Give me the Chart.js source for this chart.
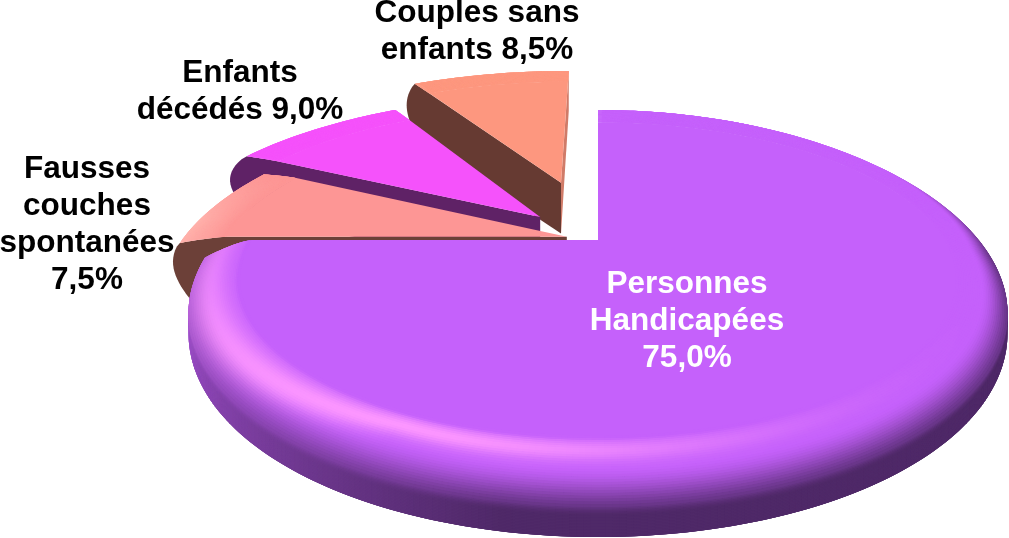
<!DOCTYPE html>
<html lang="fr">
<head>
<meta charset="utf-8">
<title>Répartition</title>
<style>
    html, body { margin: 0; padding: 0; background: #fff; }
    canvas { display: block; }
</style>
<script src="https://cdn.jsdelivr.net/npm/chart.js@4/dist/chart.umd.min.js"></script>
</head>
<body>
<canvas id="pieChart" width="1009" height="538"></canvas>
<script>
// Données
const categories = ['Personnes Handicapées', 'Fausses couches spontanées', 'Enfants décédés', 'Couples sans enfants'];
const values = [75.0, 7.5, 9.0, 8.5];
const labelLines = [
    ['Personnes', 'Handicapées', '75,0%'],
    ['Fausses', 'couches', 'spontanées', '7,5%'],
    ['Enfants', 'décédés 9,0%'],
    ['Couples sans', 'enfants 8,5%']
];

// Style
const sliceColors = ['#c561fb', '#fd9695', '#f552fb', '#fd977f'];
const sideColors = ['#4f2968', '#6c4038', '#5f2266', '#663a32'];
const explode = [0, 0.082, 0.21, 0.395];
const sliceScale = [1, 0.99, 1, 1.04];
const rimDrop = [1, 0.35, 0.15, 0.1];
const faceBulge = [0, 15, 20, 9];
const faceInset = [0, 24, 8, 2];
const labelPos = [[687, 293, '#fff'], [87, 178, '#000'], [240, 82, '#000'], [477, 22, '#000']];
const lineHeight = 37;

function rgb(hex) {
    return [1, 3, 5].map(i => parseInt(hex.substr(i, 2), 16));
}
function mix(a, b, k) {
    k = Math.max(0, Math.min(1, k));
    return a.map((v, i) => v + (b[i] - v) * k);
}
function css(c) {
    return 'rgb(' + c.map(Math.round).join(',') + ')';
}
function clamp(v) {
    return Math.max(0, Math.min(1, v));
}
function smooth(a, b, v) {
    const t = clamp((v - a) / (b - a));
    return t * t * (3 - 2 * t);
}

// Perspective: the pie lies on a plane seen from the front, the library gives center, radius and angles
const VIEW_DIST = 3.55;
const FLAT_R = 0.88;
const BEVEL_T = 0.6;

function makeView(arc) {
    const R = arc.outerRadius;
    const fx = 5.8125 * R;
    const A = 0.5417 * R * VIEW_DIST * (VIEW_DIST + 1);
    const horizon = arc.y - A / VIEW_DIST;
    return {
        R: R,
        point(sl, r, th, drop) {
            const rr = r * sl.scale;
            const w = VIEW_DIST - (sl.ey - rr * Math.cos(th));
            return [arc.x + fx * (sl.ex + rr * Math.sin(th)) / w, horizon + A / w + (drop || 0)];
        },
        depth(sl, r, th) {
            const w = VIEW_DIST - (sl.ey - r * sl.scale * Math.cos(th));
            return 0.833 * R / w;
        }
    };
}

// Rim profile: t from 0 to BEVEL_T walks the bevel, the rest is the side wall
function rimPoint(view, sl, t, th) {
    const r = FLAT_R + (1 - FLAT_R) * Math.min(t / BEVEL_T, 1);
    const D1 = 0.146 * view.R, D2 = 0.271 * view.R;
    let d;
    if (t < BEVEL_T) d = D1 * Math.pow(t / BEVEL_T, 1.4);
    else d = D1 + (D2 - D1) * (t - BEVEL_T) / (1 - BEVEL_T);
    const f = clamp(0.5 - 0.5 * Math.cos(th));
    return view.point(sl, r, th, d * f * sl.drop);
}

// Purple rim colours
function purpleRim(sl, t, th) {
    const deg = th * 180 / Math.PI;
    const peak = 0.14 + 0.3 * clamp((deg - 205) / 65);
    const width = 0.1 + 0.2 * clamp((deg - 205) / 65);
    const spread = deg > 205 ? 85 : 40;
    const glow = Math.exp(-Math.pow((deg - 205) / spread, 2));
    const bump = Math.exp(-Math.pow((t - peak) / width, 2));
    const c = mix(sl.base, [255, 153, 255], 0.95 * glow * bump * smooth(0, 0.06, t));
    let strength = 1;
    let from = 0.28;
    if (deg < 90) {
        // back of the pie: only a thin dark line at the silhouette
        strength = smooth(10, 80, deg);
        from = 0.28 + 0.45 * clamp((90 - deg) / 60);
    }
    if (deg > 190) strength = 1 - 0.8 * clamp((deg - 190) / 75);
    return mix(c, sl.side, smooth(from, from + 0.42, t) * strength);
}

function fausseRim(sl, t, th) {
    const deg = th * 180 / Math.PI;
    const k = clamp((296 - deg) / 18) * t / BEVEL_T;
    return mix(sl.base, [255, 178, 172], k);
}

function flatRim(sl) {
    return sl.base;
}

// Rows are drawn from the outside in, each cell overlaps the next one so no seam shows
function drawRim(ctx, view, sl, colorFn, tMax) {
    const stepA = Math.PI / 240;
    const stepT = 0.02;
    for (let t = tMax - stepT; t > -0.001; t -= stepT) {
        const t0 = Math.max(t, 0);
        const t1 = Math.min(t + stepT * 2, tMax);
        for (let a = sl.start; a < sl.end - 1e-6; a += stepA) {
            const b = Math.min(a + stepA * 2, sl.end);
            const p = [rimPoint(view, sl, t0, a), rimPoint(view, sl, t1, a),
                       rimPoint(view, sl, t1, b), rimPoint(view, sl, t0, b)];
            ctx.fillStyle = css(colorFn(sl, t0 + stepT / 2, a + stepA / 2));
            ctx.beginPath();
            p.forEach((q, i) => i ? ctx.lineTo(q[0], q[1]) : ctx.moveTo(q[0], q[1]));
            ctx.closePath();
            ctx.fill();
        }
    }
}

function drawTop(ctx, view, sl) {
    ctx.fillStyle = css(sl.base);
    ctx.beginPath();
    const apex = view.point(sl, 0, sl.start);
    ctx.moveTo(apex[0], apex[1]);
    for (let a = sl.start; a < sl.end; a += Math.PI / 180) {
        const q = rimPoint(view, sl, 0.01, a);
        ctx.lineTo(q[0], q[1]);
    }
    const q = rimPoint(view, sl, 0.01, sl.end);
    ctx.lineTo(q[0], q[1]);
    ctx.closePath();
    ctx.fill();
}

// Cut face seen on the left of an exploded slice, rounded at its outer end
function drawStartFace(ctx, view, sl) {
    const th = sl.start;
    const apex = view.point(sl, 0, th);
    ctx.fillStyle = css(sl.side);
    ctx.beginPath();
    ctx.moveTo(apex[0], apex[1]);
    for (let t = 0; t <= BEVEL_T + 1e-6; t += 0.05) {
        const q = rimPoint(view, sl, t, th);
        ctx.lineTo(q[0], q[1]);
    }
    const tip = rimPoint(view, sl, BEVEL_T, th);
    const H = 1.3 * view.depth(sl, 1, th);
    for (let u = 0; u <= 1.001; u += 0.05) {
        ctx.lineTo(tip[0] - sl.bulge * Math.sin(Math.PI * Math.pow(u, 0.8)) + sl.inset * u, tip[1] + H * u);
    }
    const bottom = view.point(sl, 0, th, view.depth(sl, 0, th));
    ctx.lineTo(bottom[0], bottom[1]);
    ctx.closePath();
    ctx.fill();
}

// Thin face on the right of the last slice
function drawEndFace(ctx, view, sl) {
    const th = sl.end;
    const pts = [
        view.point(sl, 0, th),
        view.point(sl, 1, th),
        view.point(sl, 1, th, view.depth(sl, 1, th)),
        view.point(sl, 0, th, view.depth(sl, 0, th))
    ];
    ctx.fillStyle = css(mix(sl.base, sl.side, 0.3));
    ctx.beginPath();
    pts.forEach((q, i) => i ? ctx.lineTo(q[0], q[1]) : ctx.moveTo(q[0], q[1]));
    ctx.closePath();
    ctx.fill();
}

const pie3d = {
    id: 'pie3d',
    beforeDatasetDraw(chart) {
        const arcs = chart.getDatasetMeta(0).data;
        const ctx = chart.ctx;
        const view = makeView(arcs[0]);
        const slices = arcs.map((arc, i) => {
            const start = arc.startAngle + Math.PI / 2;
            const end = arc.endAngle + Math.PI / 2;
            const mid = (start + end) / 2;
            return {
                start: start,
                end: end,
                ex: explode[i] * Math.sin(mid),
                ey: -explode[i] * Math.cos(mid),
                scale: sliceScale[i],
                drop: rimDrop[i],
                bulge: faceBulge[i],
                inset: faceInset[i],
                base: rgb(sliceColors[i]),
                side: rgb(sideColors[i])
            };
        });
        ctx.save();
        // Back to front
        drawEndFace(ctx, view, slices[3]);
        drawStartFace(ctx, view, slices[3]);
        drawRim(ctx, view, slices[3], flatRim, BEVEL_T);
        drawTop(ctx, view, slices[3]);
        drawStartFace(ctx, view, slices[2]);
        drawRim(ctx, view, slices[2], flatRim, BEVEL_T);
        drawTop(ctx, view, slices[2]);
        drawStartFace(ctx, view, slices[1]);
        drawRim(ctx, view, slices[1], fausseRim, BEVEL_T);
        drawTop(ctx, view, slices[1]);
        drawRim(ctx, view, slices[0], purpleRim, 1);
        drawTop(ctx, view, slices[0]);
        ctx.restore();
        return false;
    },
    afterDatasetsDraw(chart) {
        const ctx = chart.ctx;
        ctx.save();
        ctx.font = 'bold 31.5px "Liberation Sans", Arial, sans-serif';
        ctx.textAlign = 'center';
        ctx.textBaseline = 'alphabetic';
        labelLines.forEach((lines, i) => {
            const pos = labelPos[i];
            ctx.fillStyle = pos[2];
            lines.forEach((line, k) => ctx.fillText(line, pos[0], pos[1] + k * lineHeight));
        });
        ctx.restore();
    }
};

new Chart(document.getElementById('pieChart'), {
    type: 'pie',
    data: {
        labels: categories,
        datasets: [{ data: values, backgroundColor: sliceColors, borderWidth: 0 }]
    },
    options: {
        responsive: false,
        animation: false,
        layout: { padding: { left: 187, bottom: 58 } },
        plugins: { legend: { display: false }, tooltip: { enabled: false } }
    },
    plugins: [pie3d]
});
</script>
</body>
</html>
